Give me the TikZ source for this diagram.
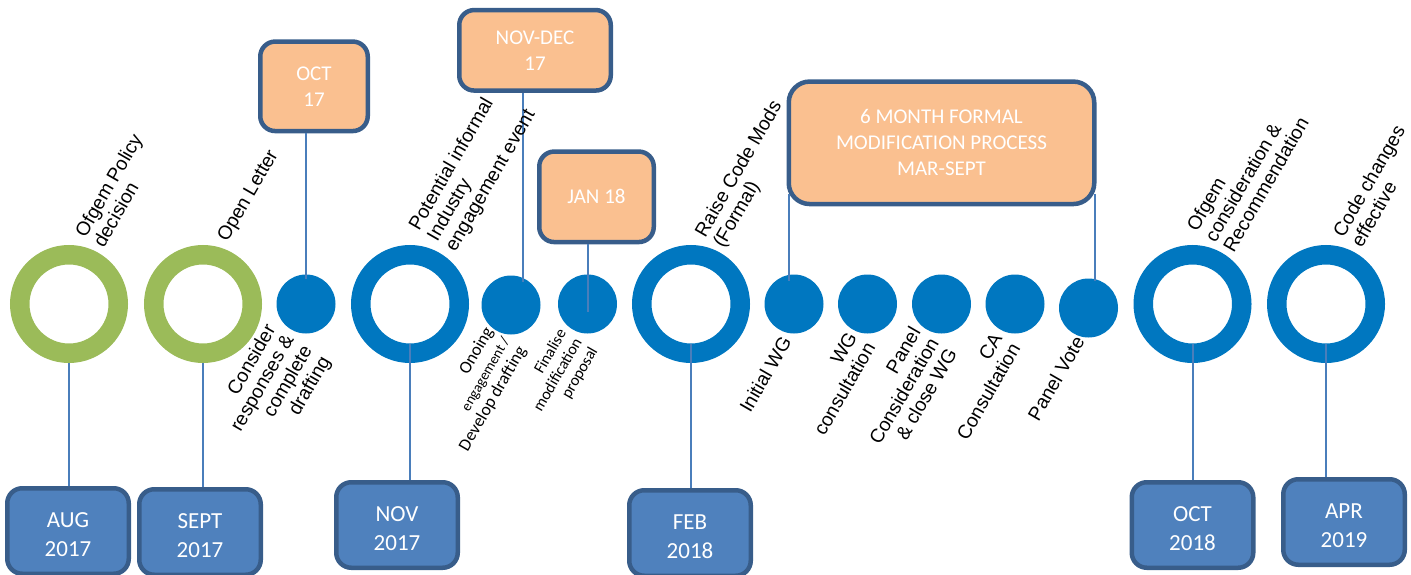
\documentclass[tikz,border=0pt]{standalone}
\usepackage{fontspec}
\usepackage{tikz}
\usetikzlibrary{positioning}
\newfontfamily\arialfont{Liberation Sans}
\newfontfamily\calibrifont{Carlito}
\definecolor{ringgreen}{RGB}{155,187,89}
\definecolor{ringblue}{RGB}{0,119,192}
\definecolor{datefill}{RGB}{79,129,189}
\definecolor{edgeblue}{RGB}{56,93,138}
\definecolor{spanfill}{RGB}{250,192,144}
\definecolor{linkblue}{RGB}{74,126,187}

\begin{document}
\begin{tikzpicture}[x=1pt,y=-1pt,
    ring/.style={circle,draw=ringblue,line width=19.5pt,minimum size=98.5pt,inner sep=0pt},
    green ring/.style={ring,draw=ringgreen},
    dot/.style={circle,fill=ringblue,minimum size=59pt,inner sep=0pt},
    box/.style={draw=edgeblue,line width=4.5pt,rounded corners=15pt,text=white,align=center},
    date box/.style={box,fill=datefill,minimum width=121.5pt,minimum height=85.5pt,
        text height=52pt,font=\fontsize{23}{29}\calibrifont},
    span box/.style={box,fill=spanfill,font=\fontsize{21}{26}\calibrifont},
    link/.style={draw=linkblue,line width=2pt},
    up tag/.style={rotate=60,anchor=south west,align=left,inner sep=0pt,
        font=\fontsize{19.3}{21}\arialfont},
    down tag/.style={up tag,anchor=north east,align=right}]
    \useasboundingbox (0,0) rectangle (1411,575);

    \node[green ring] (aug) at (69,304) {};
    \node[green ring] (sept) at (203,304) {};
    \node[dot] (cons) at (306,304) {};
    \node[ring] (nov) at (410,304) {};
    \node[dot] (eng) at (511,305) {};
    \node[dot] (fin) at (587.5,304) {};
    \node[ring] (feb) at (691,304) {};
    \node[dot] (iwg) at (794,304) {};
    \node[dot] (wgc) at (867.5,304) {};
    \node[dot] (pcw) at (941.5,304) {};
    \node[dot] (cac) at (1015,304) {};
    \node[dot] (pv) at (1088.5,308) {};
    \node[ring] (oct) at (1192.5,304) {};
    \node[ring] (apr) at (1326,304) {};

    \node[date box] (augdate) [below=123pt of aug, xshift=-1pt] {AUG\\2017};
    \node[date box] (septdate) [below=124pt of sept, xshift=-3pt] {SEPT\\2017};
    \node[date box] (novdate) [below=117pt of nov, xshift=-13pt] {NOV\\2017};
    \node[date box] (febdate) [below=125pt of feb, xshift=-1pt] {FEB\\2018};
    \node[date box] (octdate) [below=117pt of oct] {OCT\\2018};
    \node[date box] (aprdate) [below=114pt of apr, xshift=18pt] {APR\\2019};

    \node[span box, minimum width=107.5pt, minimum height=89.5pt] (octspan)
        [above=141pt of cons, xshift=8pt] {OCT\\17};
    \node[span box, minimum width=151.5pt, minimum height=80.5pt] (novdec)
        [above=182.5pt of eng, xshift=24pt] {NOV-DEC\\17};
    \node[span box, minimum width=114.5pt, minimum height=90.5pt] (janspan)
        [above=30pt of fin, xshift=9pt] {JAN 18};
    \node[span box, minimum width=305.5pt, minimum height=122.5pt, rounded corners=21pt] (sixspan)
        [above=68pt of pcw] {6 MONTH FORMAL\\MODIFICATION PROCESS\\MAR-SEPT};

    \draw[link] (aug.south) -- (augdate.north -| aug.south);
    \draw[link] (sept.south) -- (septdate.north -| sept.south);
    \draw[link, shorten <=-19.5pt] (nov.south) -- (novdate.north -| nov.south);
    \draw[link, shorten <=-19.5pt] (feb.south) -- (febdate.north -| feb.south);
    \draw[link, shorten <=-19.5pt] (oct.south) -- (octdate.north -| oct.south);
    \draw[link, shorten <=-19.5pt] (apr.south) -- (aprdate.north -| apr.south);
    \draw[link, shorten >=-5pt] (octspan.south -| cons.north) -- (cons.north);
    \draw[link, shorten >=-4pt] (novdec.south -| eng.66) -- (eng.66);
    \draw[link, shorten >=-8pt] (janspan.south -| fin.center) -- (fin.center);
    \draw[link, shorten <=-12pt, shorten >=-6pt] (sixspan.south west -| iwg.100) -- (iwg.100);
    \draw[link, shorten <=-12pt, shorten >=-2pt] (sixspan.south east -| pv.78) -- (pv.78);

    \node[up tag] at (104,249) {Ofgem Policy\\decision};
    \node[up tag] at (231,245) {Open Letter};
    \node[up tag] at (459,255) {Potential informal\\Industry\\engagement event};
    \node[up tag] at (727,251) {Raise Code Mods\\(Formal)};
    \node[up tag] at (1234,254) {Ofgem\\consideration \&\\Recommendation};
    \node[up tag] at (1362,249) {Code changes\\effective};

    \node[down tag] at (264,322) {Consider\\responses \&\\complete\\drafting};
    \node[down tag, font=\fontsize{17.5}{19}\calibrifont] at (483,325)
        {Onoing\\{\fontsize{14.5}{16}\selectfont engagement /}\\Develop drafting};
    \node[down tag, font=\fontsize{16}{18}\calibrifont] at (557,327)
        {Finalise\\modification\\proposal};
    \node[down tag] at (780,334) {Initial WG};
    \node[down tag] at (846,330) {WG\\consultation};
    \node[down tag] at (909,325) {Panel\\Consideration\\\& close WG};
    \node[down tag] at (991,331) {CA\\Consultation};
    \node[down tag] at (1073,334) {Panel Vote};
\end{tikzpicture}
\end{document}
